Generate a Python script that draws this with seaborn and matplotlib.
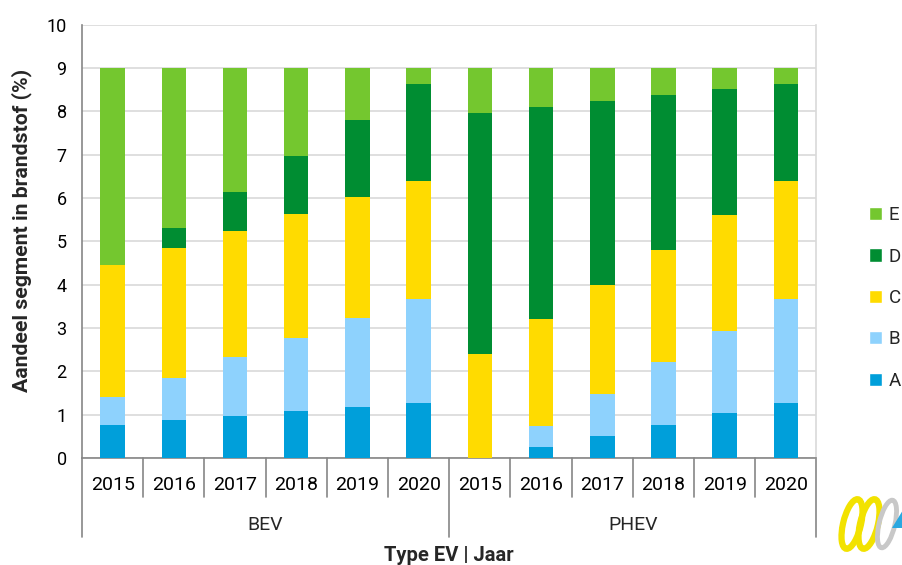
import matplotlib
matplotlib.use("Agg")
import matplotlib.pyplot as plt
import matplotlib.transforms as mtransforms
from matplotlib.patches import Patch, Ellipse, Polygon
import seaborn as sns
import pandas as pd
import numpy as np

# Data
types = ["BEV", "PHEV"]
years = ["2015", "2016", "2017", "2018", "2019", "2020"]
segments = ["A", "B", "C", "D", "E"]

seg_a = [0.77, 0.88, 0.98, 1.08, 1.18, 1.28, 0.00, 0.25, 0.51, 0.77, 1.03, 1.28]
seg_b = [0.63, 0.97, 1.34, 1.69, 2.04, 2.39, 0.00, 0.49, 0.97, 1.44, 1.91, 2.39]
seg_c = [3.05, 3.00, 2.91, 2.85, 2.80, 2.73, 2.39, 2.46, 2.52, 2.59, 2.67, 2.73]
seg_d = [0.00, 0.45, 0.90, 1.34, 1.78, 2.23, 5.57, 4.89, 4.23, 3.57, 2.90, 2.23]
seg_e = [4.55, 3.70, 2.87, 2.04, 1.20, 0.37, 1.04, 0.91, 0.77, 0.63, 0.49, 0.37]

colors = {"A": "#009FDA", "B": "#8ED2FD", "C": "#FFDB00",
          "D": "#008D32", "E": "#74C72F"}

keys = [t + " " + y for t in types for y in years]
df = pd.DataFrame({"key": keys, "A": seg_a, "B": seg_b, "C": seg_c,
                   "D": seg_d, "E": seg_e})

# cumulative tops for stacking
cum = df[segments].cumsum(axis=1)

sns.set_style("white")
plt.rcParams["font.family"] = ["Roboto", "DejaVu Sans"]

fig = plt.figure(figsize=(9.03, 5.65), dpi=100)
ax = fig.add_axes([82 / 903, 1 - 458 / 565, (816.5 - 82) / 903, (458 - 24.5) / 565])

# draw tallest first so smaller stacks sit on top
for seg in segments[::-1]:
    sns.barplot(x=df["key"], y=cum[seg], order=keys, color=colors[seg],
                width=0.4, linewidth=0, saturation=1, ax=ax, zorder=3)

ax.set_ylim(0, 10)
ax.set_xlim(-0.5, len(keys) - 0.5)
ax.set_yticks(range(0, 11))
ax.yaxis.grid(True, color="#D9D9D9", linewidth=1.2, zorder=0)
ax.set_axisbelow(True)

ax.spines["top"].set_visible(False)
ax.spines["right"].set_color("#D9D9D9")
ax.spines["right"].set_linewidth(1.2)
ax.spines["left"].set_color("#868686")
ax.spines["bottom"].set_color("#868686")
ax.spines["left"].set_linewidth(1.2)
ax.spines["bottom"].set_linewidth(1.2)

ax.tick_params(axis="y", length=5, width=1.2, color="#868686", labelsize=13,
               labelcolor="black", pad=6)
ax.tick_params(axis="x", length=0, labelsize=14, labelcolor="black", pad=13)
ax.set_xticks(range(len(keys)))
ax.set_xticklabels(years * len(types))
ax.set_xlabel("")
ax.set_ylabel("Aandeel segment in brandstof (%)", fontsize=15.3,
              fontweight="bold")
ax.yaxis.set_label_coords(-0.068, 0.525)

# category separators below the axis
trans = mtransforms.blended_transform_factory(ax.transData, ax.transAxes)
for i in range(len(keys) + 1):
    xb = i - 0.5
    low = -0.182 if i % len(years) == 0 else -0.09
    ax.plot([xb, xb], [0, low], color="#868686", lw=1.2, transform=trans,
            clip_on=False)

for j, t in enumerate(types):
    xc = j * len(years) + (len(years) - 1) / 2
    ax.text(xc, -0.155, t, transform=trans, ha="center", va="center",
            fontsize=14)

ax.text(0.5, -0.224, "Type EV | Jaar", transform=ax.transAxes, ha="center",
        va="center", fontsize=14.5, fontweight="bold")

# legend
handles = [Patch(facecolor=colors[s], label=s) for s in segments[::-1]]
fig.legend(handles=handles, loc="center left",
           bbox_to_anchor=(852 / 903, 1 - 298 / 565), frameon=False,
           fontsize=13.5, handlelength=0.7, handleheight=0.7,
           handletextpad=0.35, labelspacing=1.25)

# small logo in the corner
W, H = 903, 565
def fx(x):
    return x / W
def fy(y):
    return 1 - y / H
for cx in [852, 869]:
    fig.add_artist(Ellipse((fx(cx), fy(524)), 18 / W, 50 / H, angle=-8,
                           fill=False, edgecolor="#F2E200", lw=4.5,
                           transform=fig.transFigure))
fig.add_artist(Ellipse((fx(887), fy(524)), 16 / W, 48 / H, angle=-8,
                       fill=False, edgecolor="#C8C8C8", lw=3.5,
                       transform=fig.transFigure))
fig.add_artist(Polygon([(fx(892), fy(528)), (fx(903), fy(510)), (fx(903), fy(528))],
                       closed=True, facecolor="#2AA8E0", edgecolor="none",
                       transform=fig.transFigure))

plt.savefig("out.png", dpi=100)
